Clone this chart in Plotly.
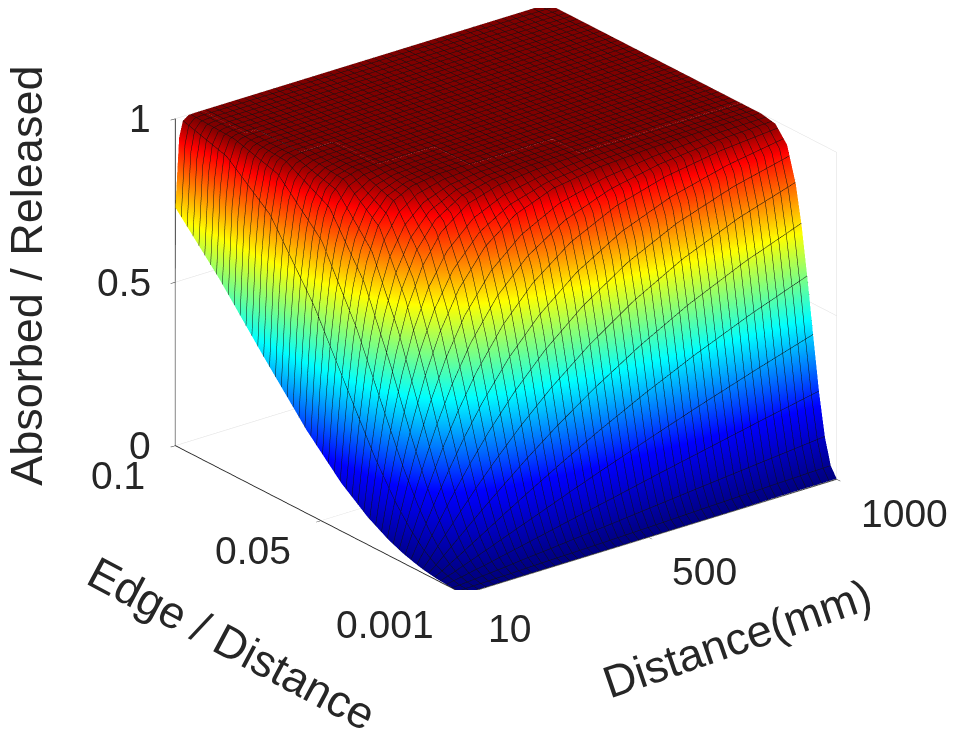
import plotly.graph_objects as go

# grid
distance = [10, 20, 30, 45, 60, 80, 110, 150, 200, 270, 350, 450, 570, 700, 850, 1000]
edge_ratio = [0.001, 0.003, 0.005, 0.007, 0.009, 0.011, 0.013, 0.015, 0.018,
              0.022, 0.027, 0.034, 0.043, 0.055, 0.07, 0.085, 0.1]

# absorbed / released, one row per edge/distance value
ratio = [
    [0, 0, 0, 0, 0, 0, 0, 0, 0, 0, 0.001, 0.001, 0.001, 0.001, 0.002, 0.002],
    [0, 0, 0.001, 0.001, 0.002, 0.002, 0.003, 0.004, 0.006, 0.008, 0.010, 0.013, 0.017, 0.022, 0.027, 0.032],
    [0.001, 0.002, 0.002, 0.004, 0.005, 0.007, 0.010, 0.014, 0.020, 0.027, 0.036, 0.047, 0.061, 0.076, 0.093, 0.110],
    [0.002, 0.004, 0.006, 0.009, 0.012, 0.017, 0.023, 0.033, 0.045, 0.062, 0.082, 0.106, 0.136, 0.167, 0.203, 0.237],
    [0.003, 0.007, 0.011, 0.016, 0.023, 0.031, 0.044, 0.061, 0.083, 0.113, 0.148, 0.190, 0.239, 0.290, 0.346, 0.399],
    [0.005, 0.011, 0.017, 0.027, 0.037, 0.050, 0.071, 0.098, 0.133, 0.180, 0.232, 0.294, 0.363, 0.432, 0.504, 0.568],
    [0.008, 0.017, 0.026, 0.041, 0.056, 0.076, 0.106, 0.146, 0.194, 0.260, 0.330, 0.410, 0.496, 0.577, 0.655, 0.720],
    [0.011, 0.024, 0.037, 0.058, 0.079, 0.106, 0.148, 0.202, 0.266, 0.350, 0.436, 0.530, 0.625, 0.708, 0.782, 0.838],
    [0.018, 0.038, 0.058, 0.090, 0.121, 0.163, 0.223, 0.299, 0.386, 0.493, 0.595, 0.696, 0.787, 0.856, 0.909, 0.945],
    [0.029, 0.062, 0.095, 0.144, 0.192, 0.254, 0.341, 0.444, 0.553, 0.674, 0.775, 0.860, 0.922, 0.959, 0.981, 0.991],
    [0.048, 0.101, 0.153, 0.228, 0.300, 0.387, 0.501, 0.624, 0.739, 0.846, 0.917, 0.963, 0.985, 0.995, 0.999, 1.0],
    [0.084, 0.172, 0.255, 0.370, 0.469, 0.581, 0.710, 0.824, 0.908, 0.964, 0.988, 0.997, 1.0, 1.0, 1.0, 1.0],
    [0.146, 0.288, 0.412, 0.564, 0.680, 0.791, 0.892, 0.956, 0.986, 0.998, 1.0, 1.0, 1.0, 1.0, 1.0, 1.0],
    [0.254, 0.467, 0.625, 0.785, 0.879, 0.945, 0.983, 0.997, 1.0, 1.0, 1.0, 1.0, 1.0, 1.0, 1.0, 1.0],
    [0.414, 0.683, 0.834, 0.940, 0.979, 0.995, 1.0, 1.0, 1.0, 1.0, 1.0, 1.0, 1.0, 1.0, 1.0, 1.0],
    [0.580, 0.845, 0.946, 0.990, 0.998, 1.0, 1.0, 1.0, 1.0, 1.0, 1.0, 1.0, 1.0, 1.0, 1.0, 1.0],
    [0.728, 0.939, 0.987, 0.999, 1.0, 1.0, 1.0, 1.0, 1.0, 1.0, 1.0, 1.0, 1.0, 1.0, 1.0, 1.0],
]

x_ticks = [10, 500, 1000]
y_ticks = [0.001, 0.05, 0.1]
z_ticks = [0, 0.5, 1]

# jet, nudged up a little: matlab paints each facet with its lowest corner
jet = [
    [0.0, "rgb(0,0,128)"],
    [0.2, "rgb(0,0,255)"],
    [0.45, "rgb(0,255,255)"],
    [0.7, "rgb(255,255,0)"],
    [0.93, "rgb(255,0,0)"],
    [1.0, "rgb(128,0,0)"],
]

font = "Liberation Sans"
ink = "#262626"
tick_font = dict(family=font, size=39, color=ink)
title_font = dict(family=font, size=45, color=ink)

x0, x1 = distance[0], distance[-1]
y0, y1 = edge_ratio[0], edge_ratio[-1]

fig = go.Figure()
fig.add_trace(go.Surface(
    x=distance, y=edge_ratio, z=ratio,
    colorscale=jet, cmin=0, cmax=1, showscale=False,
    lighting=dict(ambient=1, diffuse=0, specular=0, roughness=1, fresnel=0),
    contours=dict(
        x=dict(show=True, start=x0, end=x1, size=(x1 - x0) / 49, color="#111111", width=2, highlight=False),
        y=dict(show=True, start=y0, end=y1, size=(y1 - y0) / 49, color="#111111", width=2, highlight=False),
        z=dict(highlight=False),
    ),
    hoverinfo="skip",
))


def axis(rng, ticks):
    return dict(
        title=dict(text=""),
        range=rng,
        tickvals=ticks,
        showticklabels=False,
        showgrid=True, gridcolor="#dedede", gridwidth=1,
        showbackground=False, zeroline=False,
        showline=True, linecolor=ink, linewidth=2,
        ticks="outside", ticklen=6, tickcolor=ink,
        showspikes=False,
    )


# horizontal tick labels and tilted titles, placed at axis positions
notes = []
for t in z_ticks:
    notes.append(dict(x=x0, y=y1, z=t, text=str(t), xanchor="right", yanchor="middle",
                      xshift=-22, showarrow=False, font=tick_font))
for t in y_ticks:
    notes.append(dict(x=x0, y=t, z=0, text=str(t), xanchor="right", yanchor="middle",
                      xshift=-28, yshift=-30, showarrow=False, font=tick_font))
for t in x_ticks:
    notes.append(dict(x=t, y=y0, z=0, text=str(t), xanchor="left", yanchor="middle",
                      xshift=22, yshift=-34, showarrow=False, font=tick_font))
notes.append(dict(x=(x0 + x1) / 2, y=y0, z=0, text="Distance(mm)", textangle=-19,
                  xshift=87, yshift=-101, showarrow=False, font=title_font))
notes.append(dict(x=x0, y=(y0 + y1) / 2, z=0, text="Edge / Distance", textangle=28,
                  xshift=-88, yshift=-123, showarrow=False, font=title_font))
notes.append(dict(x=x0, y=y1, z=0.5, text="Absorbed / Released", textangle=-90,
                  xshift=-149, yshift=7, showarrow=False, font=title_font))

fig.update_layout(
    width=955, height=739,
    margin=dict(l=0, r=0, t=0, b=0),
    paper_bgcolor="white",
    scene=dict(
        domain=dict(x=[0.0515, 0.9915], y=[0.212, 1.0]),
        xaxis=axis([x0, x1], x_ticks),
        yaxis=axis([y0, y1], y_ticks),
        zaxis=axis([0, 1], z_ticks),
        aspectmode="manual",
        aspectratio=dict(x=1.62, y=1.62, z=1.225),
        camera=dict(
            eye=dict(x=-0.561 * 1.8, y=-0.725 * 1.8, z=0.398 * 1.8),
            up=dict(x=0, y=0, z=1),
            projection=dict(type="orthographic"),
        ),
        annotations=notes,
    ),
)

fig.write_html("out.html")
